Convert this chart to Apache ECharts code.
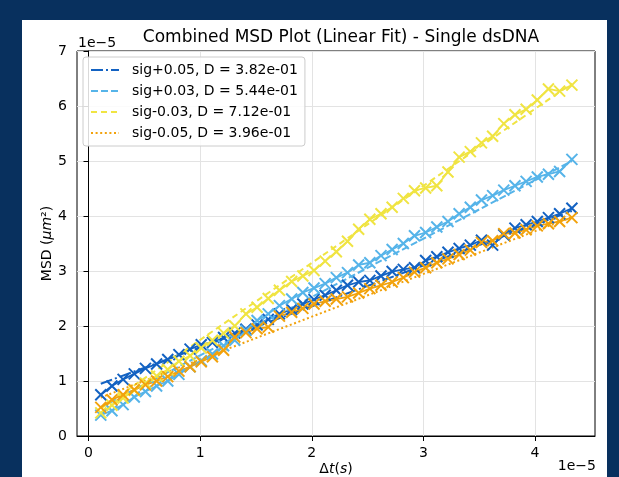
<!DOCTYPE html>
<html>
<head>
<meta charset="utf-8">
<script src="https://cdn.jsdelivr.net/npm/echarts@6/dist/echarts.min.js"></script>
<style>html,body{margin:0;padding:0;background:#08305e}#c{width:619px;height:477px}</style>
</head>
<body>
<div id="c"></div>
<script>
// Values in units of 1e-5 (as shown by the axis offset labels)
const dt = [0.11,0.21,0.31,0.41,0.51,0.61,0.71,0.81,0.91,1.01,1.11,1.21,1.31,1.41,1.51,1.61,1.71,1.82,1.92,2.02,2.12,2.22,2.32,2.42,2.52,2.62,2.72,2.82,2.92,3.02,3.12,3.22,3.32,3.42,3.52,3.62,3.72,3.82,3.92,4.02,4.12,4.22,4.33];
const msdSigP005 = [0.75,0.91,1.03,1.13,1.23,1.31,1.39,1.48,1.58,1.66,1.70,1.79,1.87,1.94,2.02,2.12,2.22,2.30,2.40,2.48,2.56,2.65,2.74,2.80,2.83,2.91,2.99,3.03,3.06,3.19,3.26,3.34,3.41,3.47,3.56,3.47,3.66,3.78,3.84,3.90,3.97,4.04,4.14];
const msdSigP003 = [0.38,0.46,0.57,0.71,0.81,0.91,1.00,1.12,1.26,1.37,1.49,1.64,1.74,1.92,2.10,2.22,2.37,2.49,2.61,2.69,2.77,2.88,2.97,3.11,3.15,3.28,3.39,3.50,3.64,3.70,3.80,3.90,4.04,4.16,4.29,4.37,4.47,4.55,4.63,4.71,4.76,4.81,5.03];
const msdSigM003 = [0.42,0.56,0.69,0.83,0.96,1.09,1.21,1.36,1.46,1.60,1.74,1.87,2.00,2.22,2.34,2.50,2.65,2.81,2.91,3.01,3.18,3.35,3.54,3.76,3.94,4.04,4.16,4.32,4.46,4.51,4.55,4.80,5.07,5.17,5.33,5.45,5.68,5.84,5.94,6.11,6.31,6.27,6.38];
const msdSigM005 = [0.52,0.66,0.75,0.84,0.93,1.00,1.08,1.18,1.26,1.35,1.44,1.56,1.80,1.88,1.95,1.98,2.18,2.25,2.32,2.40,2.45,2.49,2.53,2.60,2.68,2.74,2.80,2.88,2.98,3.06,3.15,3.22,3.30,3.38,3.52,3.55,3.68,3.69,3.75,3.82,3.86,3.90,3.97];
const sigNames = ['sig+0.05','sig+0.03','sig-0.03','sig-0.05'];
const dLabels = ['3.82e-01','5.44e-01','7.12e-01','3.96e-01'];
// linear-fit line values at the first and last lag time
const fitStart = [0.95,0.52,0.50,0.70];
const fitEnd = [4.09,5.00,6.41,3.98];
const xTicks = [0,1,2,3,4];
const yTicks = [0,1,2,3,4,5,6,7];

const allMsd = [msdSigP005, msdSigP003, msdSigM003, msdSigM005];
const colors = ['#1362c2','#56b4e9','#f0e442','#f2a20c'];
const dashes = [[12,3,2,3],[7,3],[6,4],[2,2.6]];
const FONT = 'DejaVu Sans';

const series = [];
const legendNames = [];
sigNames.forEach((nm, k) => {
  series.push({
    name: nm + ' data', type: 'line',
    data: dt.map((x, i) => [x, allMsd[k][i]]),
    symbol: 'path://M0 0L10 10M10 0L0 10', symbolSize: 11,
    itemStyle: {color: colors[k], borderColor: colors[k], borderWidth: 2},
    lineStyle: {color: colors[k], width: 1.8},
    emphasis: {disabled: true}, silent: true
  });
  const fitName = nm + ', D = ' + dLabels[k];
  legendNames.push(fitName);
  series.push({
    name: fitName, type: 'line',
    data: [[dt[0], fitStart[k]], [dt[dt.length - 1], fitEnd[k]]],
    symbol: 'none',
    itemStyle: {color: colors[k]},
    lineStyle: {color: colors[k], width: 2, type: dashes[k]},
    emphasis: {disabled: true}, silent: true
  });
});

const chart = echarts.init(document.getElementById('c'), null, {renderer: 'canvas'});
chart.setOption({
  animation: false,
  backgroundColor: '#08305e',
  title: {
    text: 'Combined MSD Plot (Linear Fit) - Single dsDNA',
    left: 336, top: 24, textAlign: 'center',
    textStyle: {fontFamily: FONT, fontSize: 17, fontWeight: 'normal', color: '#000'}
  },
  grid: {left: 77, right: 24, top: 51, bottom: 41, containLabel: false, outerBoundsMode: 'none',
    show: true, borderColor: '#000', borderWidth: 1, backgroundColor: 'transparent'},
  legend: {
    data: legendNames, orient: 'vertical', left: 83, top: 57,
    itemWidth: 28, itemHeight: 14, itemGap: 7, padding: [6, 7, 6, 7],
    backgroundColor: 'rgba(255,255,255,0.85)', borderColor: '#cccccc', borderWidth: 1, borderRadius: 3,
    selectedMode: false,
    itemStyle: {opacity: 0},
    textStyle: {fontFamily: FONT, fontSize: 14, color: '#000', padding: [0, 0, 0, 8]}
  },
  xAxis: {
    type: 'value', min: -0.103, max: 4.537,
    name: '{n|Δ}{i|t}{n|(}{i|s}{n|)}', nameLocation: 'middle', nameGap: 26, nameMoveOverlap: false,
    nameTextStyle: {fontFamily: FONT, fontSize: 14, color: '#000', verticalAlign: 'top',
      rich: {n: {fontFamily: FONT, fontSize: 14, color: '#000'}, i: {fontFamily: FONT, fontSize: 14, fontStyle: 'italic', color: '#000'}}},
    axisLine: {show: true, onZero: false, lineStyle: {color: '#000', width: 1}},
    axisTick: {show: true, length: 5, lineStyle: {color: '#000'}, customValues: xTicks},
    axisLabel: {show: true, margin: 10, customValues: xTicks, fontFamily: FONT, fontSize: 14, color: '#000',
      formatter: v => String(Math.round(v))},
    splitLine: {show: true, lineStyle: {color: '#e3e3e3', width: 1}}
  },
  yAxis: {
    type: 'value', min: 0, max: 7, interval: 1,
    name: '{n|MSD (}{i|μm}{n|²)}', nameLocation: 'middle', nameRotate: 90, nameGap: 23, nameMoveOverlap: false,
    nameTextStyle: {fontFamily: FONT, fontSize: 14, color: '#000',
      rich: {n: {fontFamily: FONT, fontSize: 14, color: '#000'}, i: {fontFamily: FONT, fontSize: 14, fontStyle: 'italic', color: '#000'}}},
    axisLine: {show: true, lineStyle: {color: '#000', width: 1}},
    axisTick: {show: true, length: 5, lineStyle: {color: '#000'}},
    axisLabel: {show: true, margin: 10, fontFamily: FONT, fontSize: 14, color: '#000',
      formatter: v => String(Math.round(v))},
    splitLine: {show: true, lineStyle: {color: '#e3e3e3', width: 1}}
  },
  graphic: [
    {type: 'rect', z: -10, shape: {x: 22, y: 20, width: 585, height: 460}, style: {fill: '#ffffff'}, silent: true},
    {type: 'text', z: 100, style: {text: '1e\u22125', x: 78, y: 50, textAlign: 'left', textVerticalAlign: 'bottom', font: '14px "DejaVu Sans"', fill: '#000'}},
    {type: 'text', z: 100, style: {text: '1e\u22125', x: 596, y: 459, textAlign: 'right', textVerticalAlign: 'top', font: '14px "DejaVu Sans"', fill: '#000'}}
  ],
  series: series
});
</script>
</body>
</html>
